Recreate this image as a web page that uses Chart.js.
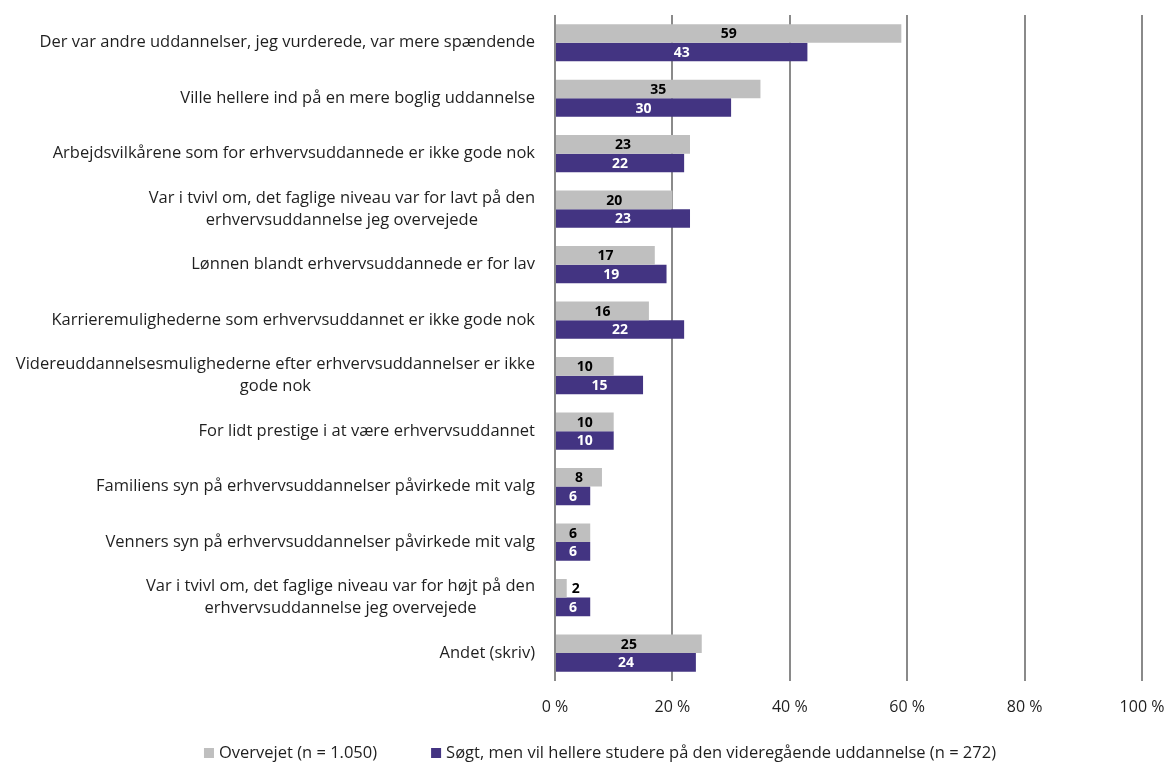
<!DOCTYPE html>
<html>
<head>
<meta charset="utf-8">
<script src="https://cdn.jsdelivr.net/npm/chart.js@4"></script>
<style>
  html, body { margin: 0; padding: 0; background: #ffffff; }
  #wrap { width: 1168px; height: 763px; position: relative; }
</style>
</head>
<body>
<div id="wrap"><canvas id="c" width="1168" height="763"></canvas></div>
<script>
const categories = [
  ["Der var andre uddannelser, jeg vurderede, var mere spændende"],
  ["Ville hellere ind på en mere boglig uddannelse"],
  ["Arbejdsvilkårene som for erhvervsuddannede er ikke gode nok"],
  ["Var i tvivl om, det faglige niveau var for lavt på den", "erhvervsuddannelse jeg overvejede"],
  ["Lønnen blandt erhvervsuddannede er for lav"],
  ["Karrieremulighederne som erhvervsuddannet er ikke gode nok"],
  ["Videreuddannelsesmulighederne efter erhvervsuddannelser er ikke", "gode nok"],
  ["For lidt prestige i at være erhvervsuddannet"],
  ["Familiens syn på erhvervsuddannelser påvirkede mit valg"],
  ["Venners syn på erhvervsuddannelser påvirkede mit valg"],
  ["Var i tvivl om, det faglige niveau var for højt på den", "erhvervsuddannelse jeg overvejede"],
  ["Andet (skriv)"]
];
const overvejet = [59, 35, 23, 20, 17, 16, 10, 10, 8, 6, 2, 25];
const soegt = [43, 30, 22, 23, 19, 22, 15, 10, 6, 6, 6, 24];
const seriesLabels = ["Overvejet (n = 1.050)", "Søgt, men vil hellere studere på den videregående uddannelse (n = 272)"];
const xTicks = [0, 20, 40, 60, 80, 100];

const FONT = "'Open Sans', Lato, sans-serif";
const TEXT = "#1f1f1f";

const yLabelPlugin = {
  id: 'yLabels',
  afterDraw(chart) {
    const ctx = chart.ctx;
    const y = chart.scales.y;
    const right = chart.chartArea.left - 20;
    ctx.save();
    ctx.font = "16.5px " + FONT;
    ctx.fillStyle = TEXT;
    ctx.textBaseline = 'middle';
    ctx.textAlign = 'center';
    const lh = 22;
    categories.forEach((lines, i) => {
      const cy = y.getPixelForValue(i);
      const maxW = Math.max(...lines.map(l => ctx.measureText(l).width));
      const cx = right - maxW / 2;
      const y0 = cy - (lines.length - 1) * lh / 2;
      lines.forEach((l, j) => ctx.fillText(l, cx, y0 + j * lh));
    });
    ctx.restore();
  }
};

const valueLabelPlugin = {
  id: 'valueLabels',
  afterDraw(chart) {
    const ctx = chart.ctx;
    ctx.save();
    ctx.font = "bold 14px " + FONT;
    ctx.textBaseline = 'middle';
    chart.data.datasets.forEach((ds, di) => {
      const meta = chart.getDatasetMeta(di);
      meta.data.forEach((bar, i) => {
        const v = ds.data[i];
        const txt = String(v);
        const w = ctx.measureText(txt).width;
        const barW = bar.x - bar.base;
        if (barW < w + 6) {
          ctx.textAlign = 'left';
          ctx.fillStyle = '#000000';
          ctx.fillText(txt, bar.x + 5, bar.y + 1);
        } else {
          ctx.textAlign = 'center';
          ctx.fillStyle = di === 0 ? '#000000' : '#ffffff';
          ctx.fillText(txt, (bar.x + bar.base) / 2, bar.y + 1);
        }
      });
    });
    ctx.restore();
  }
};

const legendPlugin = {
  id: 'customLegend',
  afterDraw(chart) {
    const ctx = chart.ctx;
    ctx.save();
    ctx.font = "16.5px " + FONT;
    ctx.textBaseline = 'middle';
    ctx.textAlign = 'left';
    const box = 10, gap = 5, itemGap = 54;
    const widths = seriesLabels.map(t => box + gap + ctx.measureText(t).width);
    const total = widths.reduce((a, b) => a + b, 0) + itemGap * (widths.length - 1);
    let x = 600 - total / 2;
    const cy = 753;
    chart.data.datasets.forEach((ds, i) => {
      ctx.fillStyle = ds.backgroundColor;
      ctx.fillRect(x, cy - 5, box, box);
      ctx.fillStyle = TEXT;
      ctx.fillText(seriesLabels[i], x + box + gap, cy);
      x += widths[i] + itemGap;
    });
    ctx.restore();
  }
};

new Chart(document.getElementById('c'), {
  type: 'bar',
  data: {
    labels: categories,
    datasets: [
      { label: seriesLabels[0], data: overvejet, backgroundColor: '#bfbfbf', borderWidth: 0 },
      { label: seriesLabels[1], data: soegt, backgroundColor: '#433482', borderWidth: 0 }
    ]
  },
  options: {
    indexAxis: 'y',
    responsive: false,
    animation: false,
    events: [],
    layout: { padding: { top: 15, left: 0, right: 26, bottom: 29 } },
    datasets: { bar: { categoryPercentage: 0.67, barPercentage: 1.0 } },
    plugins: { legend: { display: false }, tooltip: { enabled: false } },
    scales: {
      x: {
        min: 0, max: 100,
        z: 1,
        afterBuildTicks(s) { s.ticks = xTicks.map(v => ({ value: v })); },
        afterFit(s) { s.paddingLeft = 0; s.paddingRight = 0; },
        ticks: {
          callback: v => v + ' %',
          color: TEXT,
          font: { family: FONT, size: 16 },
          padding: 17,
          maxRotation: 0
        },
        grid: { color: '#8a8a8a', lineWidth: 2, drawTicks: false, tickLength: 0 },
        border: { display: false }
      },
      y: {
        ticks: { display: false },
        grid: { display: false },
        border: { display: false },
        afterFit(s) { s.width = 555; }
      }
    }
  },
  plugins: [yLabelPlugin, valueLabelPlugin, legendPlugin]
});
</script>
</body>
</html>
